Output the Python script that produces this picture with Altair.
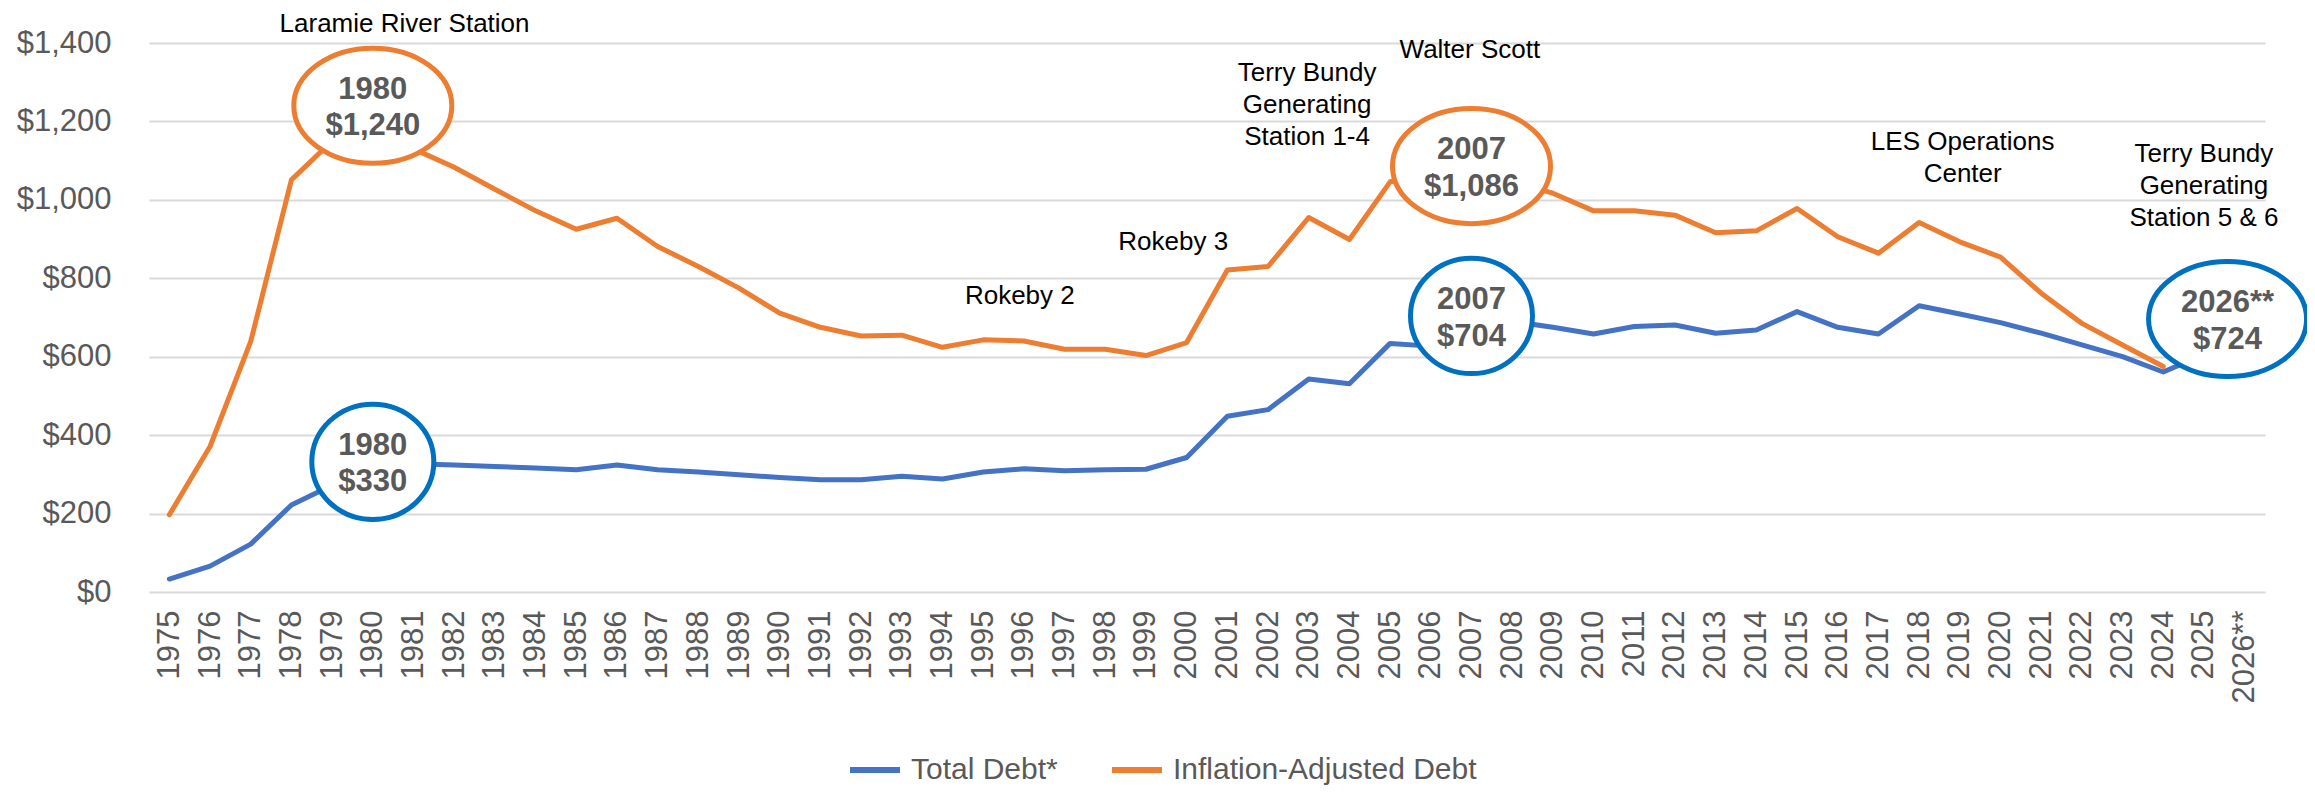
import altair as alt
import pandas as pd

FONT = "Liberation Sans"
BLUE = "#4472C4"
ORANGE = "#ED7D31"
CIRCLE_BLUE = "#0070C0"
GRAY = "#595959"

years = list(range(1975, 2027))
year_labels = [str(y) for y in range(1975, 2026)] + ["2026**"]
series_names = ["Total Debt*", "Inflation-Adjusted Debt"]

total_debt = [33, 66, 122, 222, 272, 330, 327, 324, 320, 316,
              312, 324, 312, 306, 299, 292, 286, 286, 295, 288,
              306, 314, 309, 312, 313, 343, 448, 465, 543, 531,
              634, 627, 704, 690, 675, 658, 677, 681, 660, 668,
              715, 675, 658, 730, 709, 687, 660, 630, 600, 561,
              606, 724]
inflation_adjusted = [197, 371, 639, 1051, 1150, 1240, 1130, 1083, 1027, 972,
                      925, 953, 881, 830, 775, 711, 675, 653, 655, 624,
                      643, 640, 619, 619, 603, 636, 821, 830, 955, 899,
                      1046, 1060, 1086, 1045, 1017, 972, 972, 961, 916, 921,
                      978, 906, 864, 942, 893, 854, 762, 685, 630, 575,
                      None, None]

# callouts (ellipse centre in data units, label text)
orange_callout_year = [1980, 2007]
orange_callout_value = [1240, 1086]
orange_callout_text = ["1980\n$1,240", "2007\n$1,086"]
blue_callout_year = [1980, 2007]
blue_callout_value = [332, 704]
blue_callout_text = ["1980\n$330", "2007\n$704"]
proj_callout_year = [2025.58]
proj_callout_value = [696]
proj_callout_text = ["2026**\n$724"]

# plant annotations (first-line anchor in data units)
ann_text = ["Laramie River Station", "Rokeby 2", "Rokeby 3",
            "Terry Bundy\nGenerating\nStation 1-4", "Walter Scott",
            "LES Operations\nCenter", "Terry Bundy\nGenerating\nStation 5 & 6"]
ann_year = [1980.78, 1995.9, 1999.67, 2002.96, 2006.96, 2019.07, 2025.0]
ann_value = [1429, 735, 872, 1303, 1363, 1127, 1097]

rows = []
for y, v in zip(years, total_debt):
    rows.append({"year": y, "value": v, "series": series_names[0]})
for y, v in zip(years, inflation_adjusted):
    if v is not None:
        rows.append({"year": y, "value": v, "series": series_names[1]})
lines_df = pd.DataFrame(rows)

label_array = "[" + ",".join("'" + s + "'" for s in year_labels) + "]"

x_enc = alt.X(
    "year:Q",
    scale=alt.Scale(domain=[1974.5, 2026.5], nice=False, zero=False),
    axis=alt.Axis(values=years, labelExpr=label_array + "[datum.value - 1975]",
                  labelAngle=-90, grid=False, domain=False, ticks=False, tickSize=0,
                  labelPadding=18, labelFontSize=31, labelColor=GRAY, labelFont=FONT,
                  labelOverlap=False, labelFlush=False, labelBound=False, title=None),
)
y_enc = alt.Y(
    "value:Q",
    scale=alt.Scale(domain=[0, 1400], nice=False),
    axis=alt.Axis(values=[0, 200, 400, 600, 800, 1000, 1200, 1400], format="$,.0f",
                  grid=True, gridColor="#D9D9D9", gridWidth=2, domain=False, ticks=False,
                  tickSize=0, labelPadding=38, labelFontSize=31, labelColor=GRAY,
                  labelFont=FONT, title=None),
)
color_enc = alt.Color(
    "series:N",
    scale=alt.Scale(domain=series_names, range=[BLUE, ORANGE]),
    legend=alt.Legend(title=None, orient="none", legendX=698, legendY=699,
                      direction="horizontal", symbolType="stroke", symbolSize=2500,
                      symbolStrokeWidth=6, labelFontSize=30, labelColor=GRAY,
                      labelFont=FONT, labelLimit=600, columnPadding=42, labelOffset=8,
                      padding=0),
)

line_base = alt.Chart(lines_df).mark_line(strokeWidth=5, strokeCap="round", strokeJoin="round")
blue_line = line_base.transform_filter(alt.datum.series == series_names[0]).encode(x=x_enc, y=y_enc, color=color_enc)
orange_line = line_base.transform_filter(alt.datum.series == series_names[1]).encode(x=x_enc, y=y_enc, color=color_enc)


def ellipse_path(ry):
    k = 0.5523
    return (f"M 1 0 C 1 {k*ry:.4f} {k:.4f} {ry:.4f} 0 {ry:.4f} "
            f"C {-k:.4f} {ry:.4f} -1 {k*ry:.4f} -1 0 "
            f"C -1 {-k*ry:.4f} {-k:.4f} {-ry:.4f} 0 {-ry:.4f} "
            f"C {k:.4f} {-ry:.4f} 1 {-k*ry:.4f} 1 0 Z")


def callout_layer(xs, vs, texts, color, ry, size):
    df = pd.DataFrame({"year": xs, "value": vs, "label": texts})
    ell = alt.Chart(df).mark_point(shape=ellipse_path(ry), size=size, filled=True,
                                   fill="white", stroke=color, strokeWidth=5,
                                   opacity=1, fillOpacity=1, strokeOpacity=1).encode(x=x_enc, y=y_enc)
    txt = alt.Chart(df).mark_text(font=FONT, fontSize=31, fontWeight="bold", color=GRAY,
                                  align="center", baseline="alphabetic", dy=-7,
                                  lineBreak="\n", lineHeight=36.7).encode(x=x_enc, y=y_enc, text="label:N")
    return ell, txt


o_ell, o_txt = callout_layer(orange_callout_year, orange_callout_value, orange_callout_text, ORANGE, 0.728, 158 * 158)
b_ell, b_txt = callout_layer(blue_callout_year, blue_callout_value, blue_callout_text, CIRCLE_BLUE, 0.945, 122 * 122)
p_ell, p_txt = callout_layer(proj_callout_year, proj_callout_value, proj_callout_text, CIRCLE_BLUE, 0.728, 158 * 158)

ann_df = pd.DataFrame({"year": ann_year, "value": ann_value, "label": ann_text})
ann = alt.Chart(ann_df).mark_text(font=FONT, fontSize=26, color="black", align="center",
                                  baseline="alphabetic", lineBreak="\n", lineHeight=32).encode(
    x=x_enc, y=y_enc, text="label:N")

chart = alt.layer(blue_line, orange_line, o_ell, b_ell, p_ell, o_txt, b_txt, p_txt, ann).properties(
    width=2116, height=549,
    padding={"left": 141, "top": 35, "right": 42, "bottom": 195},
    autosize=alt.AutoSizeParams(type="none"),
    background="white",
).configure_view(stroke=None)

chart.save("out.html", embed_options={"renderer": "svg", "actions": False})
